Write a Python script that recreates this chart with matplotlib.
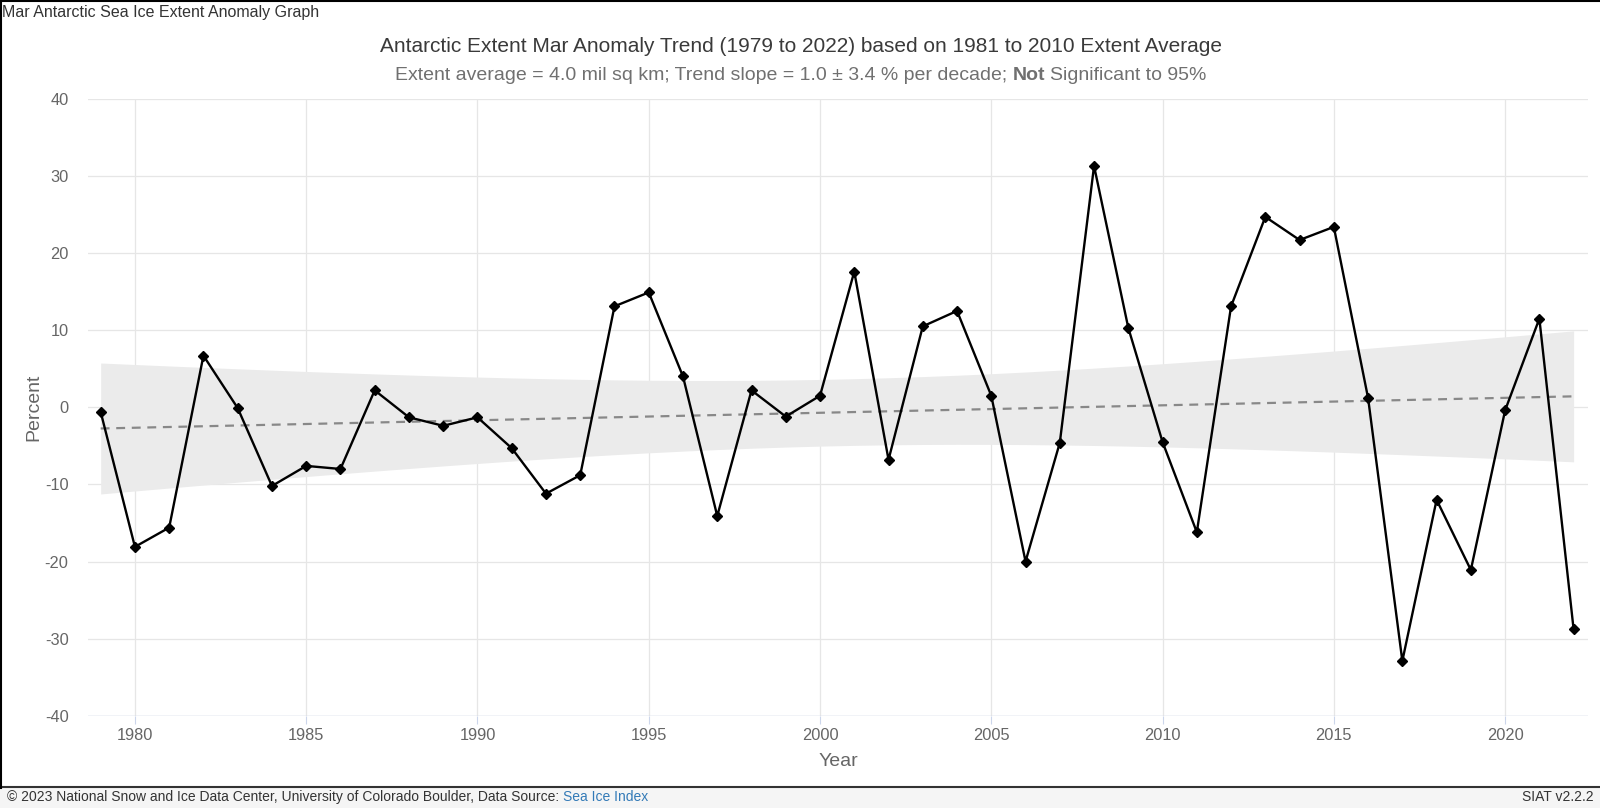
import matplotlib
matplotlib.use("Agg")
import matplotlib.pyplot as plt
import numpy as np

years = list(range(1979, 2023))
anomaly = [-0.6, -18.1, -15.6, 6.7, -0.1, -10.2, -7.6, -8.0, 2.2, -1.3,
           -2.4, -1.3, -5.3, -11.2, -8.8, 13.1, 14.9, 4.0, -14.1, 2.2,
           -1.2, 1.5, 17.6, -6.8, 10.5, 12.5, 1.5, -20.0, -4.6, 31.3,
           10.3, -4.5, -16.2, 13.1, 24.7, 21.7, 23.4, 1.2, -32.9, -12.0,
           -21.1, -0.4, 11.5, -28.8]
x_ticks = [1980, 1985, 1990, 1995, 2000, 2005, 2010, 2015, 2020]
y_ticks = [-40, -30, -20, -10, 0, 10, 20, 30, 40]

page_title = "Mar Antarctic Sea Ice Extent Anomaly Graph"
chart_title = "Antarctic Extent Mar Anomaly Trend (1979 to 2022) based on 1981 to 2010 Extent Average"
subtitle_parts = [("Extent average = 4.0 mil sq km; Trend slope = 1.0 \u00b1 3.4 % per decade;", "normal"),
                  ("Not", "bold"),
                  ("Significant to 95%", "normal")]
footer_parts = [("\u00a9 2023 National Snow and Ice Data Center, University of Colorado Boulder, Data Source:", "#333333"),
                ("Sea Ice Index", "#337ab7")]
version = "SIAT v2.2.2"

plt.rcParams['font.family'] = ['Liberation Sans', 'DejaVu Sans']
plt.rcParams['axes.unicode_minus'] = False

W, H = 1600, 808
fig = plt.figure(figsize=(W / 100, H / 100), dpi=100)
fig.patch.set_facecolor("white")
renderer = fig.canvas.get_renderer()

ax = fig.add_axes([88 / W, 1 - 715.7 / H, 1500 / W, 616.8 / H])
ax.set_xlim(1978.63, 2022.42)
ax.set_ylim(-40, 40)
for s in ax.spines.values():
    s.set_visible(False)
ax.set_xticks(x_ticks)
ax.set_yticks(y_ticks)
ax.tick_params(axis="x", length=8 * 0.72, width=0.8, color="#ccd6eb",
               labelcolor="#666666", labelsize=11.8, pad=3)
ax.tick_params(axis="y", length=0, labelcolor="#666666", labelsize=11.8, pad=14)
ax.grid(True, color="#e6e6e6", linewidth=0.9)
ax.set_axisbelow(True)
ax.axhline(-40, color="#ccd6eb", linewidth=1.0, zorder=1.5)

# linear trend with 95% confidence band
x = np.array(years, dtype=float)
y = np.array(anomaly)
n = len(x)
slope, intercept = np.polyfit(x, y, 1)
fit = slope * x + intercept
s_err = np.sqrt(np.sum((y - fit) ** 2) / (n - 2))
xm = x.mean()
se = s_err * np.sqrt(1 / n + (x - xm) ** 2 / np.sum((x - xm) ** 2))
t_val = 2.018
ax.fill_between(x, fit - t_val * se, fit + t_val * se, color="#ebebeb", linewidth=0, zorder=2)
ax.plot(x, fit, color="#888888", linewidth=1.6, dashes=(4, 3), zorder=3)

ax.plot(years, anomaly, color="black", linewidth=1.7, marker="D", markersize=5, zorder=4)

ax.set_xlabel("Year", fontsize=14, color="#666666", labelpad=7)
ax.set_ylabel("Percent", fontsize=14, color="#666666", labelpad=2)


def width_px(s, **kw):
    t = fig.text(0, 0, s, **kw)
    w = t.get_window_extent(renderer).width
    t.remove()
    return w


# page header and chart titles
fig.text(2 / W, 1 - 12 / H, page_title, fontsize=11.5, color="#333333", ha="left", va="center")
fig.text(801 / W, 1 - 47 / H, chart_title, fontsize=15, color="#3a3a3a", ha="center", va="center")

sub_kw = dict(fontsize=14, color="#707070")
space = width_px("a a", **sub_kw) - width_px("aa", **sub_kw)
widths = [width_px(p, fontweight=w, **sub_kw) for p, w in subtitle_parts]
total = sum(widths) + space * (len(widths) - 1)
xpos = 801 - total / 2
for (p, w), wd in zip(subtitle_parts, widths):
    fig.text(xpos / W, 1 - 75.5 / H, p, fontweight=w, ha="left", va="center", **sub_kw)
    xpos += wd + space

# footer bar
fig.patches.append(plt.Rectangle((0, 0), 1, 20 / H, transform=fig.transFigure,
                                 facecolor="#f5f5f5", edgecolor="none", zorder=0))
fig.lines.append(plt.Line2D([0, 1], [1 - 787 / H, 1 - 787 / H], transform=fig.transFigure,
                            color="#333333", linewidth=1.5))
foot_kw = dict(fontsize=10.0)
fspace = width_px("a a", **foot_kw) - width_px("aa", **foot_kw)
xpos = 7
for p, c in footer_parts:
    fig.text(xpos / W, 1 - 797 / H, p, color=c, ha="left", va="center", **foot_kw)
    xpos += width_px(p, **foot_kw) + fspace
fig.text(1594 / W, 1 - 797 / H, version, color="#333333", ha="right", va="center", **foot_kw)

# page border (top and left)
fig.lines.append(plt.Line2D([0, 1], [1 - 0.5 / H, 1 - 0.5 / H], transform=fig.transFigure,
                            color="black", linewidth=1.5))
fig.lines.append(plt.Line2D([0.7 / W, 0.7 / W], [20 / H, 1], transform=fig.transFigure,
                            color="black", linewidth=1.5))

fig.savefig("out.png", dpi=100)
